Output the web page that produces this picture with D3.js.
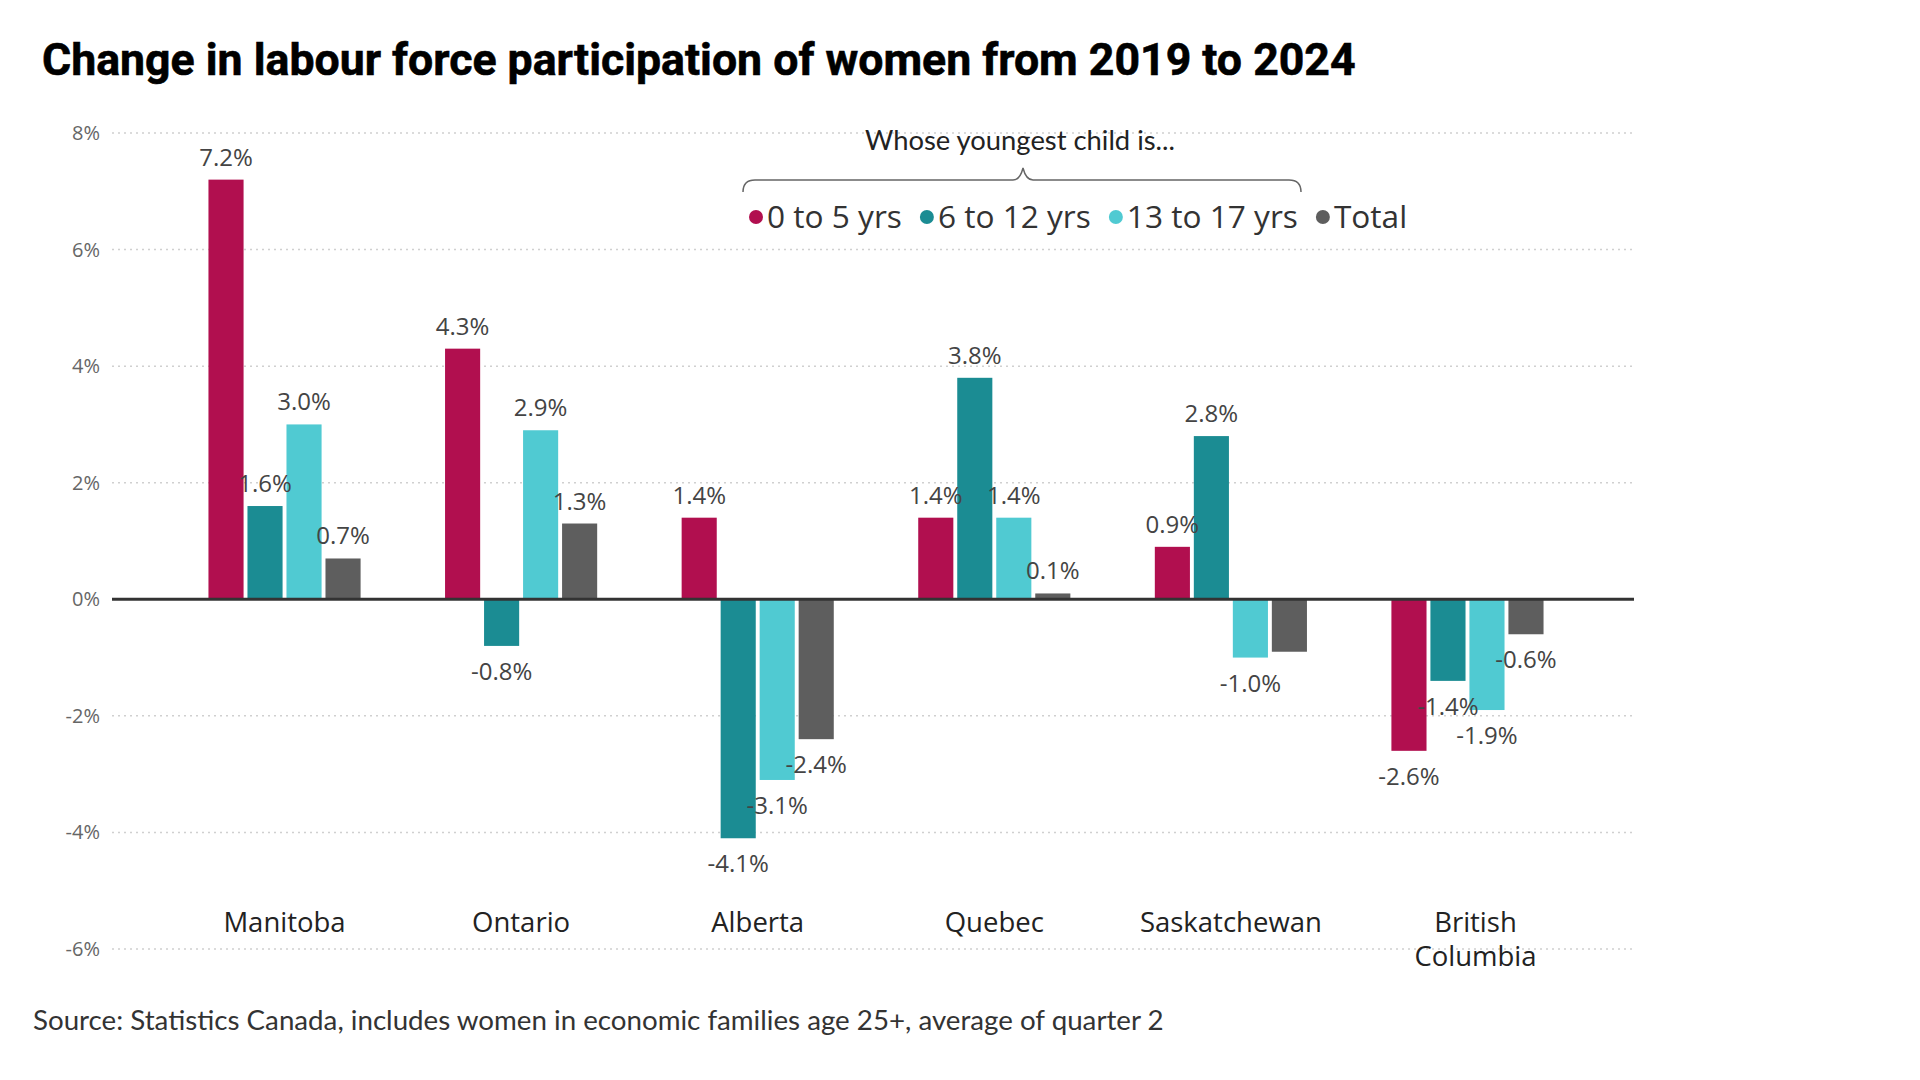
<!DOCTYPE html>
<html>
<head>
<meta charset="utf-8">
<title>Change in labour force participation of women</title>
<script src="https://cdn.jsdelivr.net/npm/d3@7"></script>
<style>
  html, body { margin: 0; padding: 0; background: #ffffff; }
  svg { display: block; }
</style>
</head>
<body>
<div id="chart"></div>
<script>
// --- Data ---
const categories = ["Manitoba", "Ontario", "Alberta", "Quebec", "Saskatchewan", "British Columbia"];
const seriesNames = ["0 to 5 yrs", "6 to 12 yrs", "13 to 17 yrs", "Total"];
const values0to5 = [7.2, 4.3, 1.4, 1.4, 0.9, -2.6];
const values6to12 = [1.6, -0.8, -4.1, 3.8, 2.8, -1.4];
const values13to17 = [3.0, 2.9, -3.1, 1.4, -1.0, -1.9];
const valuesTotal = [0.7, 1.3, -2.4, 0.1, -0.9, -0.6];
const yTicks = [-6, -4, -2, 0, 2, 4, 6, 8];
// labels the original chart leaves out
const hiddenLabels = [["Saskatchewan", "Total"]];

// --- Constants ---
const WIDTH = 1920;
const HEIGHT = 1080;
const COLORS = ["#B10F4F", "#1B8C93", "#50CAD2", "#5E5E5E"];
const CHART_FONT = "'Open Sans', 'Noto Sans', sans-serif";
const TEXT_FONT = "Lato, 'Open Sans', sans-serif";
const TITLE_FONT = "Roboto, 'Liberation Sans', sans-serif";

const TITLE = "Change in labour force participation of women from 2019 to 2024";
const SOURCE = "Source: Statistics Canada, includes women in economic families age 25+, average of quarter 2";
const ANNOTATION = "Whose youngest child is...";

// hyphen minus like the original, not the unicode minus
const fmt = d3.formatLocale({ decimal: ".", thousands: ",", grouping: [3], currency: ["", ""], minus: "-" });
const pct = v => fmt.format(".1f")(v) + "%";

// --- Scales ---
const x = d3.scaleBand()
    .domain(categories)
    .range([124, 1628])
    .paddingInner(0.357)
    .paddingOuter(0.357);

const xSub = d3.scaleBand()
    .domain(seriesNames)
    .range([0, x.bandwidth()])
    .paddingInner(0.1);

const y = d3.scaleLinear()
    .domain([-6, 8])
    .range([949, 133]);

const color = d3.scaleOrdinal().domain(seriesNames).range(COLORS);

const rows = categories.map((cat, i) => ({
    category: cat,
    values: [values0to5[i], values6to12[i], values13to17[i], valuesTotal[i]]
        .map((v, j) => ({ category: cat, series: seriesNames[j], value: v }))
}));

// --- Helpers ---

/**
 * Shrinks or grows a text's font size so its width matches the target.
 */
function fitWidth(sel, target) {
    const size = parseFloat(sel.attr("font-size"));
    const len = sel.node().getComputedTextLength();
    sel.attr("font-size", (size * target / len).toFixed(2));
}

function isHidden(d) {
    return hiddenLabels.some(h => h[0] === d.category && h[1] === d.series);
}

// --- SVG ---
const svg = d3.select("#chart")
    .append("svg")
    .attr("width", WIDTH)
    .attr("height", HEIGHT);

// title
svg.append("text")
    .attr("x", 42)
    .attr("y", 75)
    .attr("font-family", TITLE_FONT)
    .attr("font-weight", 700)
    .attr("font-size", 40)
    .attr("fill", "#000")
    .attr("stroke", "#000")
    .attr("stroke-width", 0.6)
    .text(TITLE)
    .call(fitWidth, 1314);

// gridlines + y tick labels
const yAxis = svg.append("g").attr("class", "y-axis");

yAxis.selectAll("line.grid")
    .data(yTicks.filter(t => t !== 0))
    .join("line")
    .attr("class", "grid")
    .attr("x1", 112)
    .attr("x2", 1634)
    .attr("y1", d => y(d))
    .attr("y2", d => y(d))
    .attr("stroke", "#d0d0d0")
    .attr("stroke-width", 1.5)
    .attr("stroke-dasharray", "2,4");

yAxis.selectAll("text")
    .data(yTicks)
    .join("text")
    .attr("x", 100)
    .attr("y", d => y(d))
    .attr("dy", "0.35em")
    .attr("text-anchor", "end")
    .attr("font-family", CHART_FONT)
    .attr("font-size", 20)
    .attr("fill", "#666")
    .text(d => fmt.format("d")(d) + "%");

// bars
const groups = svg.append("g")
    .attr("class", "bars")
    .selectAll("g")
    .data(rows)
    .join("g")
    .attr("transform", d => `translate(${x(d.category)},0)`);

groups.selectAll("rect")
    .data(d => d.values)
    .join("rect")
    .attr("x", d => xSub(d.series))
    .attr("width", xSub.bandwidth())
    .attr("y", d => y(Math.max(0, d.value)))
    .attr("height", d => Math.abs(y(d.value) - y(0)))
    .attr("fill", d => color(d.series));

// zero line on top of bars
svg.append("line")
    .attr("x1", 112)
    .attr("x2", 1634)
    .attr("y1", y(0))
    .attr("y2", y(0))
    .attr("stroke", "#333")
    .attr("stroke-width", 3);

// data labels
groups.selectAll("text")
    .data(d => d.values.filter(v => !isHidden(v)))
    .join("text")
    .attr("x", d => xSub(d.series) + xSub.bandwidth() / 2)
    .attr("y", d => d.value >= 0 ? y(d.value) - 14 : y(d.value) + 34)
    .attr("text-anchor", "middle")
    .attr("font-family", CHART_FONT)
    .attr("font-size", 24)
    .attr("fill", "#444")
    .text(d => pct(d.value));

// category labels, wrapped when too wide for the group
const catLabels = svg.append("g")
    .attr("class", "x-axis")
    .selectAll("text")
    .data(categories)
    .join("text")
    .attr("x", d => x(d) + x.bandwidth() / 2)
    .attr("y", 932)
    .attr("text-anchor", "middle")
    .attr("font-family", CHART_FONT)
    .attr("font-size", 27.5)
    .attr("fill", "#222")
    .text(d => d);

catLabels.each(function (d) {
    const t = d3.select(this);
    if (this.getComputedTextLength() <= x.step() * 0.85) return;
    const words = d.split(" ");
    t.text(null);
    words.forEach((w, i) => {
        t.append("tspan")
            .attr("x", x(d) + x.bandwidth() / 2 + 8)
            .attr("dy", i === 0 ? 0 : 34)
            .text(w);
    });
});

// legend annotation and brace
svg.append("text")
    .attr("x", 1020)
    .attr("y", 150)
    .attr("text-anchor", "middle")
    .attr("font-family", TEXT_FONT)
    .attr("font-size", 24)
    .attr("fill", "#222")
    .text(ANNOTATION)
    .call(fitWidth, 310);

const braceL = 743, braceR = 1301, braceMid = 1023, braceY = 180;
svg.append("path")
    .attr("d", `M${braceL},${braceY + 12} Q${braceL},${braceY} ${braceL + 12},${braceY}`
        + ` L${braceMid - 10},${braceY} Q${braceMid - 3},${braceY} ${braceMid},${braceY - 12}`
        + ` Q${braceMid + 3},${braceY} ${braceMid + 10},${braceY}`
        + ` L${braceR - 12},${braceY} Q${braceR},${braceY} ${braceR},${braceY + 12}`)
    .attr("fill", "none")
    .attr("stroke", "#666")
    .attr("stroke-width", 1.5);

// legend items laid out left to right
const legend = svg.append("g").attr("class", "legend");
const LEGEND_LEFT = 749, LEGEND_RIGHT = 1403, LEGEND_Y = 217;
const items = legend.selectAll("g")
    .data(seriesNames)
    .join("g");

items.append("circle")
    .attr("r", 7)
    .attr("fill", d => color(d));

items.append("text")
    .attr("x", 11)
    .attr("dy", "0.36em")
    .attr("font-family", CHART_FONT)
    .attr("font-size", 29)
    .attr("fill", "#333")
    .text(d => d);

function layoutLegend() {
    let cx = LEGEND_LEFT + 7;
    items.each(function () {
        const g = d3.select(this);
        g.attr("transform", `translate(${cx},${LEGEND_Y})`);
        cx += 11 + g.select("text").node().getComputedTextLength() + 25;
    });
    return cx - 25;
}

let legendEnd = layoutLegend();
const scale = (LEGEND_RIGHT - LEGEND_LEFT - 4 * 43) / (legendEnd - LEGEND_LEFT - 4 * 43);
items.select("text").attr("font-size", (29 * scale).toFixed(2));
layoutLegend();

// source note
svg.append("text")
    .attr("x", 33)
    .attr("y", 1030)
    .attr("font-family", TEXT_FONT)
    .attr("font-size", 22)
    .attr("fill", "#333")
    .text(SOURCE)
    .call(fitWidth, 1131);
</script>
</body>
</html>
